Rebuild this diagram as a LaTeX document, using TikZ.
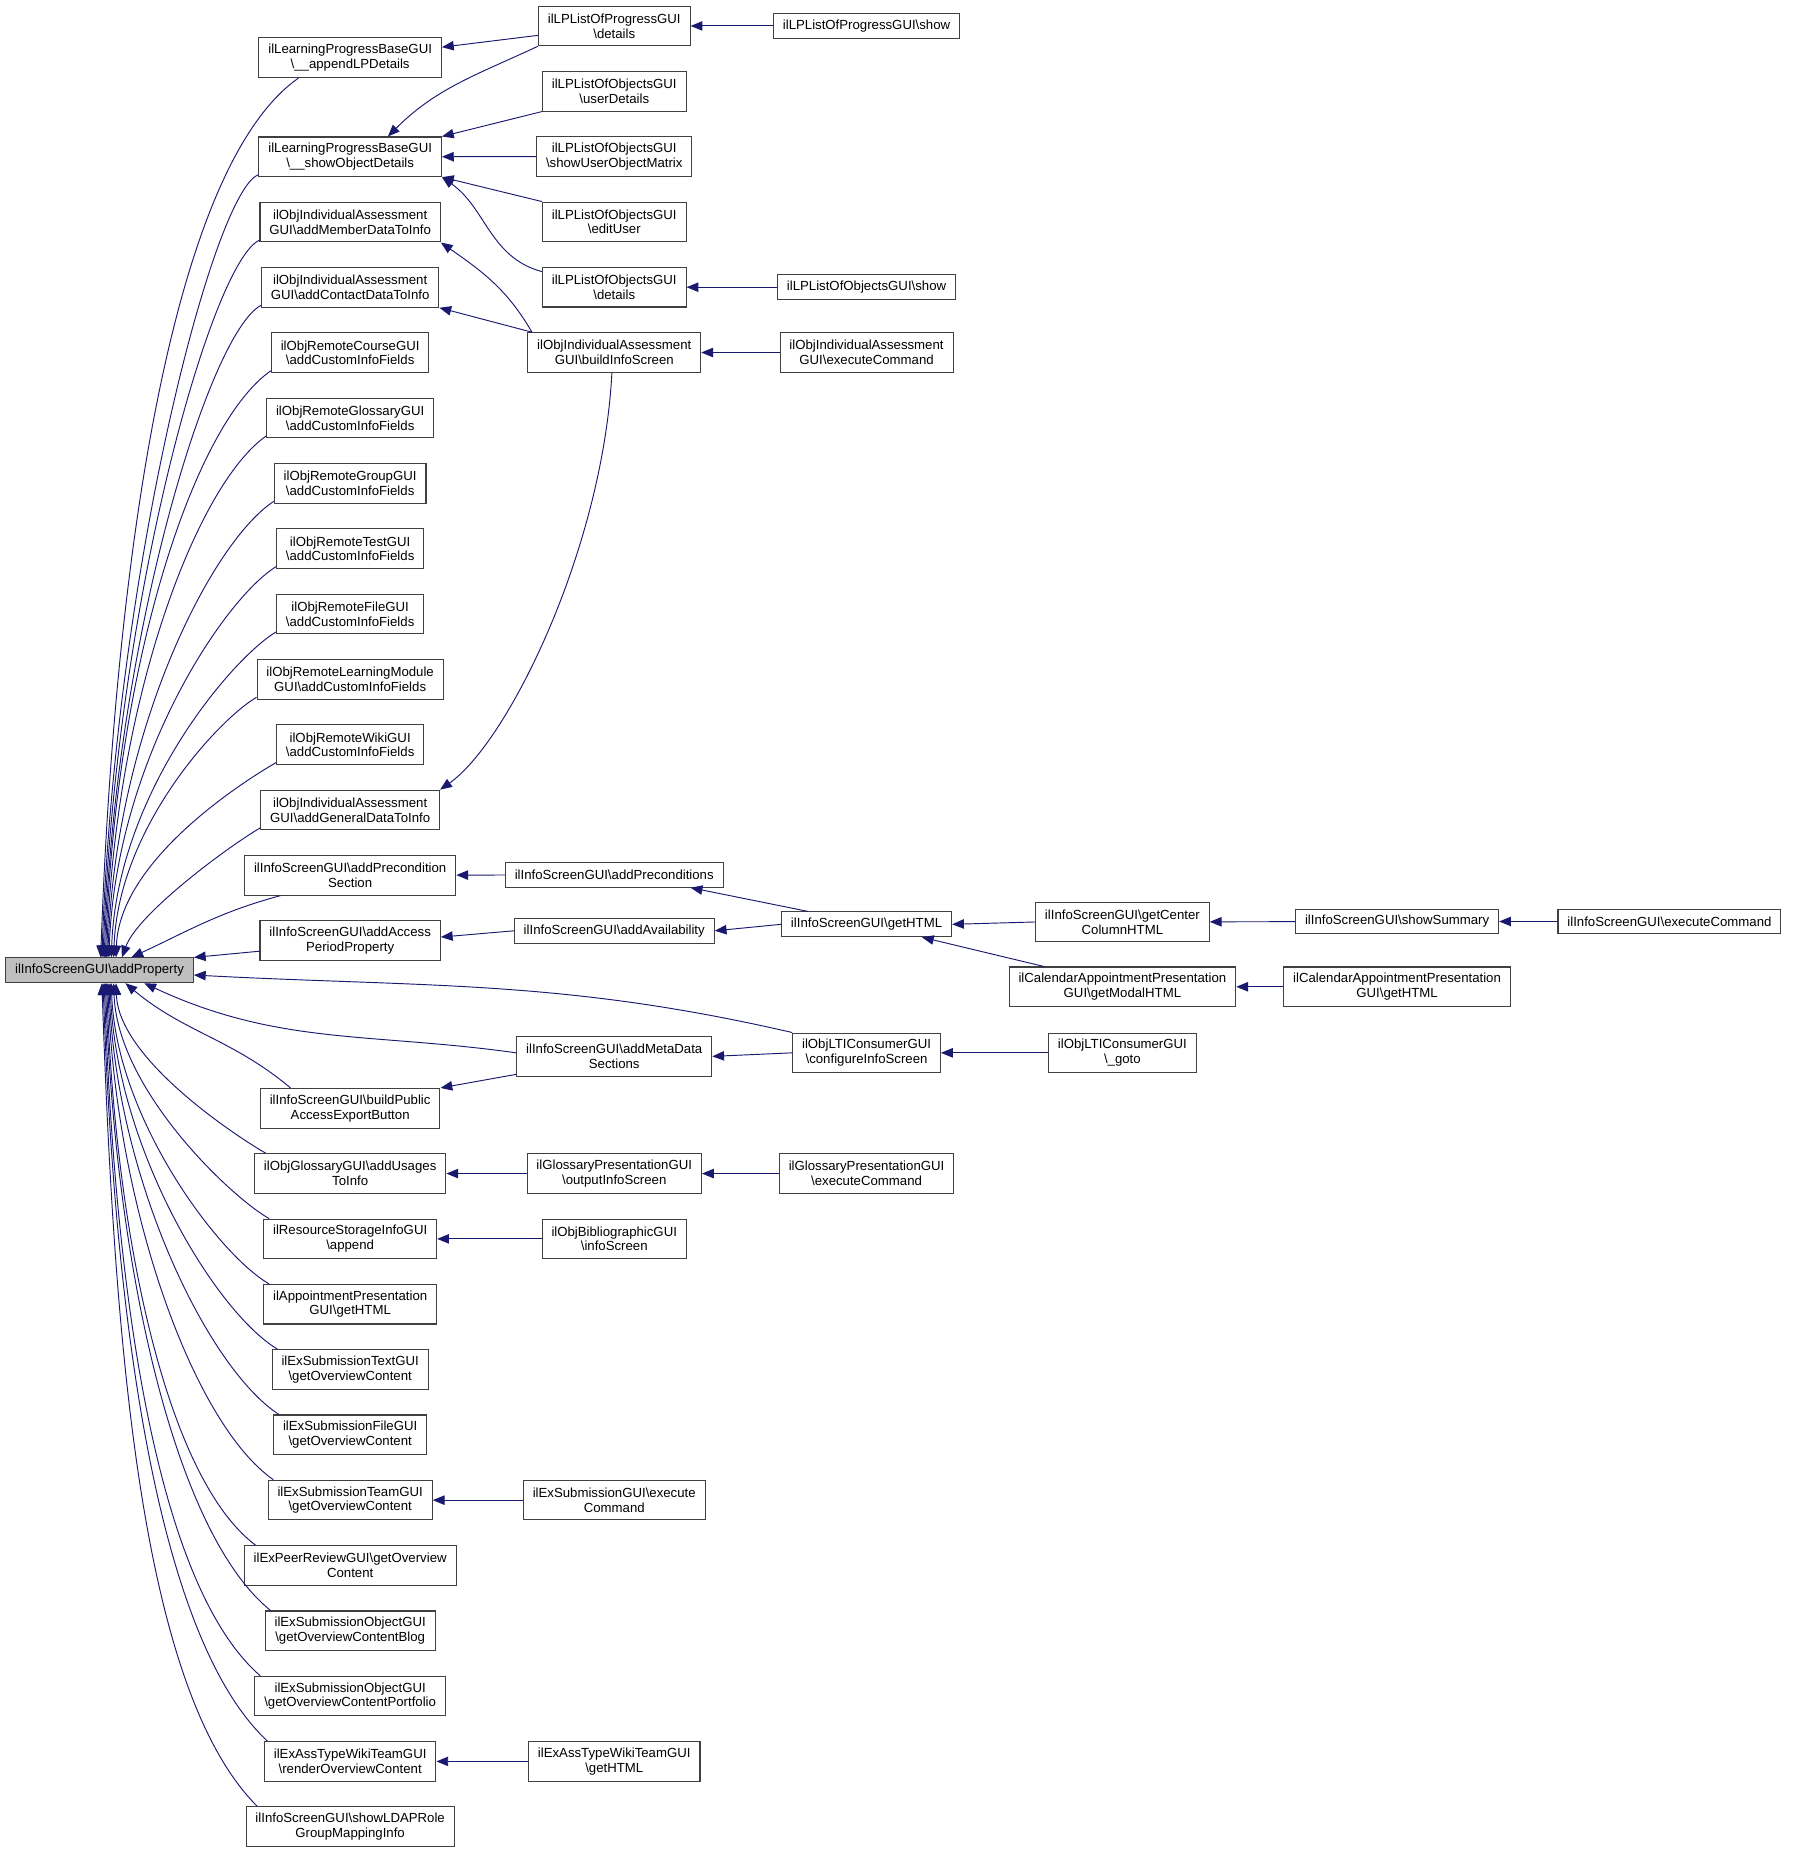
\documentclass[tikz,border=0pt]{standalone}
\usepackage{fontspec}
\setmainfont{Liberation Sans}
\usetikzlibrary{arrows.meta,positioning}

\definecolor{callblue}{RGB}{25,25,112}
\definecolor{curgray}{RGB}{191,191,191}

\tikzset{
  fn/.style={draw=black!75, fill=white, rectangle, align=center, line width=0.9pt,
    inner xsep=8pt, inner ysep=5pt, minimum height=21pt,
    font=\fontsize{11.2}{12.5}\selectfont},
  fntwo/.style={fn, minimum height=33.6pt},
  cur/.style={fn, fill=curgray},
  call/.style={draw=callblue, line width=0.8pt},
  % long fan-in curves into addProperty: out angle, out distance, in distance
  fanup/.style n args={3}{out=#1, in=88, out distance=#2, in distance=#3},
  fandown/.style n args={3}{out=#1, in=-88, out distance=#2, in distance=#3},
}

\begin{document}
\begin{tikzpicture}[x=1pt, y=-1pt, node distance=55.4pt, on grid,
    >={Triangle[length=10pt,width=8pt]}]
  \useasboundingbox (0,0) rectangle (1520,1571.7);

  \node[cur] (A_0) at (84.4,823) {ilInfoScreenGUI\textbackslash addProperty};

  % callers of addProperty
  \node[fntwo] (B_1) at (297,49) {ilLearningProgressBaseGUI\\\textbackslash\_\_appendLPDetails};
  \node[fntwo] (B_2) at (297,133) {ilLearningProgressBaseGUI\\\textbackslash\_\_showObjectDetails};
  \node[fntwo] [below=of B_2] (B_3) {ilObjIndividualAssessment\\GUI\textbackslash addMemberDataToInfo};
  \node[fntwo] [below=of B_3] (B_4) {ilObjIndividualAssessment\\GUI\textbackslash addContactDataToInfo};
  \node[fntwo] [below=of B_4] (B_5) {ilObjRemoteCourseGUI\\\textbackslash addCustomInfoFields};
  \node[fntwo] [below=of B_5] (B_6) {ilObjRemoteGlossaryGUI\\\textbackslash addCustomInfoFields};
  \node[fntwo] [below=of B_6] (B_7) {ilObjRemoteGroupGUI\\\textbackslash addCustomInfoFields};
  \node[fntwo] [below=of B_7] (B_8) {ilObjRemoteTestGUI\\\textbackslash addCustomInfoFields};
  \node[fntwo] [below=of B_8] (B_9) {ilObjRemoteFileGUI\\\textbackslash addCustomInfoFields};
  \node[fntwo] [below=of B_9] (B_10) {ilObjRemoteLearningModule\\GUI\textbackslash addCustomInfoFields};
  \node[fntwo] [below=of B_10] (B_11) {ilObjRemoteWikiGUI\\\textbackslash addCustomInfoFields};
  \node[fntwo] [below=of B_11] (B_12) {ilObjIndividualAssessment\\GUI\textbackslash addGeneralDataToInfo};
  \node[fntwo] [below=of B_12] (B_13) {ilInfoScreenGUI\textbackslash addPrecondition\\Section};
  \node[fntwo] [below=of B_13] (B_14) {ilInfoScreenGUI\textbackslash addAccess\\PeriodProperty};
  \node[fntwo] (B_15) at (297,940) {ilInfoScreenGUI\textbackslash buildPublic\\AccessExportButton};
  \node[fntwo] [below=of B_15] (B_16) {ilObjGlossaryGUI\textbackslash addUsages\\ToInfo};
  \node[fntwo] [below=of B_16] (B_17) {ilResourceStorageInfoGUI\\\textbackslash append};
  \node[fntwo] [below=of B_17] (B_18) {ilAppointmentPresentation\\GUI\textbackslash getHTML};
  \node[fntwo] [below=of B_18] (B_19) {ilExSubmissionTextGUI\\\textbackslash getOverviewContent};
  \node[fntwo] [below=of B_19] (B_20) {ilExSubmissionFileGUI\\\textbackslash getOverviewContent};
  \node[fntwo] [below=of B_20] (B_21) {ilExSubmissionTeamGUI\\\textbackslash getOverviewContent};
  \node[fntwo] [below=of B_21] (B_22) {ilExPeerReviewGUI\textbackslash getOverview\\Content};
  \node[fntwo] [below=of B_22] (B_23) {ilExSubmissionObjectGUI\\\textbackslash getOverviewContentBlog};
  \node[fntwo] [below=of B_23] (B_24) {ilExSubmissionObjectGUI\\\textbackslash getOverviewContentPortfolio};
  \node[fntwo] [below=of B_24] (B_25) {ilExAssTypeWikiTeamGUI\\\textbackslash renderOverviewContent};
  \node[fntwo] [below=of B_25] (B_26) {ilInfoScreenGUI\textbackslash showLDAPRole\\GroupMappingInfo};

  % second level
  \node[fntwo] (C_1) at (521,22) {ilLPListOfProgressGUI\\\textbackslash details};
  \node[fntwo] [below=of C_1] (C_2) {ilLPListOfObjectsGUI\\\textbackslash userDetails};
  \node[fntwo] [below=of C_2] (C_3) {ilLPListOfObjectsGUI\\\textbackslash showUserObjectMatrix};
  \node[fntwo] [below=of C_3] (C_4) {ilLPListOfObjectsGUI\\\textbackslash editUser};
  \node[fntwo] [below=of C_4] (C_5) {ilLPListOfObjectsGUI\\\textbackslash details};
  \node[fntwo] [below=of C_5] (C_6) {ilObjIndividualAssessment\\GUI\textbackslash buildInfoScreen};
  \node[fn] (C_7) at (521,742) {ilInfoScreenGUI\textbackslash addPreconditions};
  \node[fn] (C_8) at (521,789.5) {ilInfoScreenGUI\textbackslash addAvailability};
  \node[fntwo] (C_9) at (521,896) {ilInfoScreenGUI\textbackslash addMetaData\\Sections};
  \node[fntwo] [right=224pt of B_16] (C_10) {ilGlossaryPresentationGUI\\\textbackslash outputInfoScreen};
  \node[fntwo] [right=224pt of B_17] (C_11) {ilObjBibliographicGUI\\\textbackslash infoScreen};
  \node[fntwo] [right=224pt of B_21] (C_12) {ilExSubmissionGUI\textbackslash execute\\Command};
  \node[fntwo] [right=224pt of B_25] (C_13) {ilExAssTypeWikiTeamGUI\\\textbackslash getHTML};

  % third level and beyond
  \node[fn] [right=214pt of C_1] (D_1) {ilLPListOfProgressGUI\textbackslash show};
  \node[fn] [right=214pt of C_5] (D_2) {ilLPListOfObjectsGUI\textbackslash show};
  \node[fntwo] [right=214pt of C_6] (D_3) {ilObjIndividualAssessment\\GUI\textbackslash executeCommand};
  \node[fn] (D_4) at (735,784) {ilInfoScreenGUI\textbackslash getHTML};
  \node[fntwo] (D_5) at (735,893) {ilObjLTIConsumerGUI\\\textbackslash configureInfoScreen};
  \node[fntwo] [right=214pt of C_10] (D_6) {ilGlossaryPresentationGUI\\\textbackslash executeCommand};
  \node[fntwo] (E_1) at (952,782) {ilInfoScreenGUI\textbackslash getCenter\\ColumnHTML};
  \node[fntwo] (E_2) at (952,837) {ilCalendarAppointmentPresentation\\GUI\textbackslash getModalHTML};
  \node[fntwo] [right=217pt of D_5] (E_3) {ilObjLTIConsumerGUI\\\textbackslash \_goto};
  \node[fn] (F_1) at (1185,781.6) {ilInfoScreenGUI\textbackslash showSummary};
  \node[fntwo] [right=233pt of E_2] (F_2) {ilCalendarAppointmentPresentation\\GUI\textbackslash getHTML};
  \node[fn] [right=231pt of F_1] (G_1) {ilInfoScreenGUI\textbackslash executeCommand};

  \path[every edge/.append style={->, call}]
    % fan-in from above
    ([xshift=34pt]B_1.south west) edge[fanup={215}{150pt}{250pt}] ([xshift=1pt]A_0.north)
    ([yshift=2pt]B_2.south west) edge[fanup={200}{40pt}{330pt}] ([xshift=2pt]A_0.north)
    ([yshift=2pt]B_3.south west) edge[fanup={205}{45pt}{300pt}] ([xshift=3pt]A_0.north)
    ([yshift=2pt]B_4.south west) edge[fanup={208}{50pt}{270pt}] ([xshift=4pt]A_0.north)
    ([yshift=2pt]B_5.south west) edge[fanup={215}{80pt}{250pt}] ([xshift=5pt]A_0.north)
    ([yshift=2pt]B_6.south west) edge[fanup={215}{71pt}{222pt}] ([xshift=6pt]A_0.north)
    ([yshift=2pt]B_7.south west) edge[fanup={213}{62pt}{194pt}] ([xshift=7pt]A_0.north)
    ([yshift=2pt]B_8.south west) edge[fanup={212}{53pt}{166pt}] ([xshift=8pt]A_0.north)
    ([yshift=2pt]B_9.south west) edge[fanup={211}{44pt}{139pt}] ([xshift=10pt]A_0.north)
    ([yshift=2pt]B_10.south west) edge[fanup={210}{36pt}{111pt}] ([xshift=12pt]A_0.north)
    ([yshift=2pt]B_11.south west) edge[fanup={210}{30pt}{83pt}] ([xshift=14pt]A_0.north)
    ([yshift=2pt]B_12.south west) edge[out=210, in=70, out distance=30pt, in distance=40pt] ([xshift=19pt]A_0.north)
    ([xshift=31pt]B_13.south west) edge[out=195, in=25] ([xshift=27pt]A_0.north)
    ([yshift=-9pt]B_14.west) edge (A_0.north east)
    % fan-in from below
    ([xshift=26pt]B_15.north west) edge[out=140, in=-40] ([xshift=22pt]A_0.south)
    ([xshift=10pt]B_16.north west) edge[fandown={150}{30pt}{64pt}] ([xshift=14pt]A_0.south)
    ([xshift=5pt]B_17.north west) edge[fandown={150}{40pt}{89pt}] ([xshift=12pt]A_0.south)
    ([xshift=5pt]B_18.north west) edge[fandown={150}{50pt}{114pt}] ([xshift=10pt]A_0.south)
    ([xshift=5pt]B_19.north west) edge[fandown={149}{62pt}{139pt}] ([xshift=9pt]A_0.south)
    ([xshift=5pt]B_20.north west) edge[fandown={147}{73pt}{164pt}] ([xshift=8pt]A_0.south)
    ([xshift=5pt]B_21.north west) edge[fandown={145}{84pt}{189pt}] ([xshift=7pt]A_0.south)
    ([xshift=10pt]B_22.north west) edge[fandown={143}{95pt}{214pt}] ([xshift=6pt]A_0.south)
    ([xshift=5pt]B_23.north west) edge[fandown={141}{106pt}{238pt}] ([xshift=5pt]A_0.south)
    ([xshift=5pt]B_24.north west) edge[fandown={139}{117pt}{263pt}] ([xshift=4pt]A_0.south)
    ([xshift=3pt]B_25.north west) edge[fandown={137}{128pt}{288pt}] ([xshift=3pt]A_0.south)
    ([xshift=10pt]B_26.north west) edge[fandown={135}{139pt}{313pt}] ([xshift=2pt]A_0.south)
    (D_5.north west) edge[out=167, in=-3] ([yshift=-4pt]A_0.east)
    ([yshift=3pt]C_9.west) edge[out=172, in=-25] ([xshift=38pt]A_0.south)
    % learning progress
    ([yshift=-8pt]C_1.west) edge ([yshift=9pt]B_1.east)
    (C_1.south west) edge[out=205, in=45] ([xshift=32pt]B_2.north)
    (C_2.south west) edge (B_2.north east)
    (C_3) edge (B_2)
    (C_4.north west) edge (B_2.south east)
    ([yshift=-4pt]C_5.north west) edge[out=165, in=-35] (B_2.south east)
    (D_1) edge (C_1)
    (D_2) edge (C_5)
    % individual assessment
    ([xshift=4pt]C_6.north west) edge[out=120, in=-35] (B_3.south east)
    ([xshift=4pt]C_6.north west) edge (B_4.south east)
    ([xshift=-2pt]C_6.south) edge[out=-93, in=35, out distance=150pt, in distance=70pt] (B_12.north east)
    (D_3) edge (C_6)
    % info screen
    (C_7) edge (B_13)
    ([xshift=23pt]D_4.north west) edge ([xshift=-28pt]C_7.south east)
    (C_8.west) edge ([yshift=3pt]B_14.east)
    (D_4.west) edge (C_8.east)
    (E_1.west) edge (D_4.east)
    ([xshift=30pt]E_2.north west) edge ([xshift=47pt]D_4.south)
    (F_1) edge (E_1)
    (G_1) edge (F_1)
    (F_2) edge (E_2)
    (D_5.west) edge (C_9.east)
    ([yshift=2pt]C_9.south west) edge (B_15.north east)
    (E_3) edge (D_5)
    % remaining pairs
    (C_10) edge (B_16)
    (D_6) edge (C_10)
    (C_11) edge (B_17)
    (C_12) edge (B_21)
    (C_13) edge (B_25);
\end{tikzpicture}
\end{document}
